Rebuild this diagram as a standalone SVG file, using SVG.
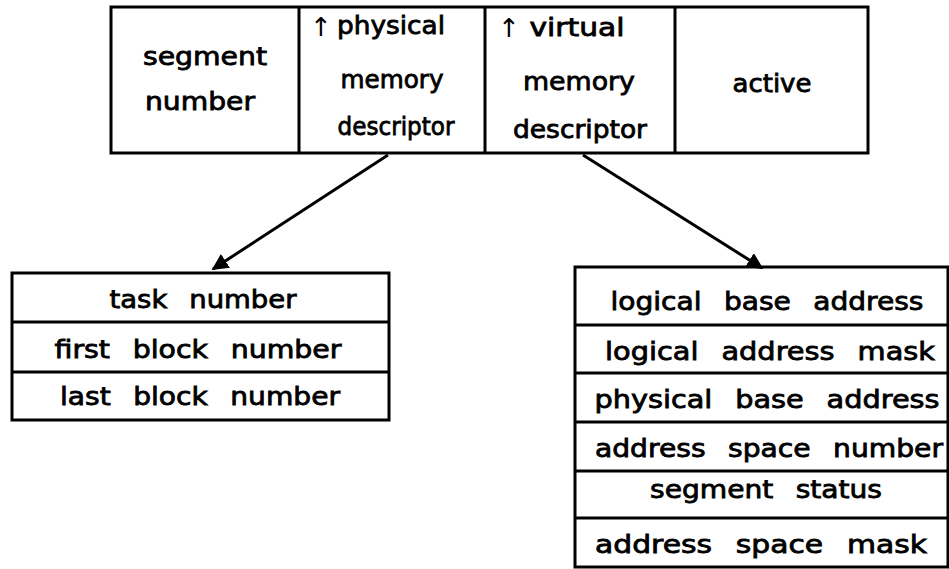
<svg xmlns="http://www.w3.org/2000/svg" width="949" height="569" viewBox="0 0 949 569">
  <style>
    .box { fill: #fff; stroke: #000; stroke-width: 3; }
    .div { stroke: #000; stroke-width: 3; fill: none; }
    .lbl { font-family: "DejaVu Sans", "Liberation Sans", sans-serif; font-size: 25px; fill: #000; stroke: #000; stroke-width: 0.8; text-anchor: middle; word-spacing: 12px; }
    .ptr { font-family: "DejaVu Sans", sans-serif; font-size: 26px; fill: #000; text-anchor: middle; }
    .link { stroke: #000; stroke-width: 3; fill: none; marker-end: url(#head); }
  </style>
  <defs>
    <marker id="head" viewBox="0 0 10 10" refX="9" refY="5" markerWidth="5.5" markerHeight="5.5" orient="auto" markerUnits="strokeWidth">
      <path d="M0,0 L10,5 L0,10 z" fill="#000"/>
    </marker>
  </defs>
  <rect width="949" height="569" fill="#fff"/>

  <!-- segment descriptor record -->
  <g id="segment-record">
    <rect class="box" x="111" y="7" width="757" height="146"/>
    <line class="div" x1="299" y1="7" x2="299" y2="153"/>
    <line class="div" x1="485" y1="7" x2="485" y2="153"/>
    <line class="div" x1="675" y1="7" x2="675" y2="153"/>
    <text class="lbl" x="205" y="65" textLength="124" lengthAdjust="spacingAndGlyphs">segment</text>
    <text class="lbl" x="200" y="110" textLength="110" lengthAdjust="spacingAndGlyphs">number</text>
    <text class="ptr" x="321" y="36">↑</text>
    <text class="lbl" x="391" y="34" textLength="108" lengthAdjust="spacingAndGlyphs">physical</text>
    <text class="lbl" x="392" y="88" textLength="103" lengthAdjust="spacingAndGlyphs">memory</text>
    <text class="lbl" x="396" y="135" textLength="117" lengthAdjust="spacingAndGlyphs">descriptor</text>
    <text class="ptr" x="509" y="37">↑</text>
    <text class="lbl" x="577" y="36" textLength="95" lengthAdjust="spacingAndGlyphs">virtual</text>
    <text class="lbl" x="579" y="90" textLength="112" lengthAdjust="spacingAndGlyphs">memory</text>
    <text class="lbl" x="580" y="138" textLength="134" lengthAdjust="spacingAndGlyphs">descriptor</text>
    <text class="lbl" x="772" y="92" textLength="79" lengthAdjust="spacingAndGlyphs">active</text>
  </g>

  <!-- physical memory descriptor -->
  <g id="physical-descriptor">
    <rect class="box" x="12" y="273" width="377" height="147"/>
    <line class="div" x1="12" y1="322" x2="389" y2="322"/>
    <line class="div" x1="12" y1="372" x2="389" y2="372"/>
    <text class="lbl" x="203" y="308" textLength="187" lengthAdjust="spacingAndGlyphs">task number</text>
    <text class="lbl" x="198" y="358" textLength="287" lengthAdjust="spacingAndGlyphs">first block number</text>
    <text class="lbl" x="200" y="405" textLength="280" lengthAdjust="spacingAndGlyphs">last block number</text>
  </g>

  <!-- virtual memory descriptor -->
  <g id="virtual-descriptor">
    <rect class="box" x="575" y="267" width="373" height="300"/>
    <line class="div" x1="575" y1="325" x2="948" y2="325"/>
    <line class="div" x1="575" y1="373" x2="948" y2="373"/>
    <line class="div" x1="575" y1="422" x2="948" y2="422"/>
    <line class="div" x1="575" y1="471" x2="948" y2="471"/>
    <line class="div" x1="575" y1="518" x2="948" y2="518"/>
    <text class="lbl" x="767" y="310" textLength="313" lengthAdjust="spacingAndGlyphs">logical base address</text>
    <text class="lbl" x="770" y="360" textLength="330" lengthAdjust="spacingAndGlyphs">logical address mask</text>
    <text class="lbl" x="767" y="408" textLength="345" lengthAdjust="spacingAndGlyphs">physical base address</text>
    <text class="lbl" x="769" y="457" textLength="348" lengthAdjust="spacingAndGlyphs">address space number</text>
    <text class="lbl" x="766" y="498" textLength="232" lengthAdjust="spacingAndGlyphs">segment status</text>
    <text class="lbl" x="761" y="553" textLength="332" lengthAdjust="spacingAndGlyphs">address space mask</text>
  </g>

  <!-- pointers from the segment record to its descriptors -->
  <g id="connectors">
    <line class="link" x1="388" y1="155" x2="213" y2="269"/>
    <line class="link" x1="583" y1="155" x2="762" y2="268"/>
  </g>
</svg>
